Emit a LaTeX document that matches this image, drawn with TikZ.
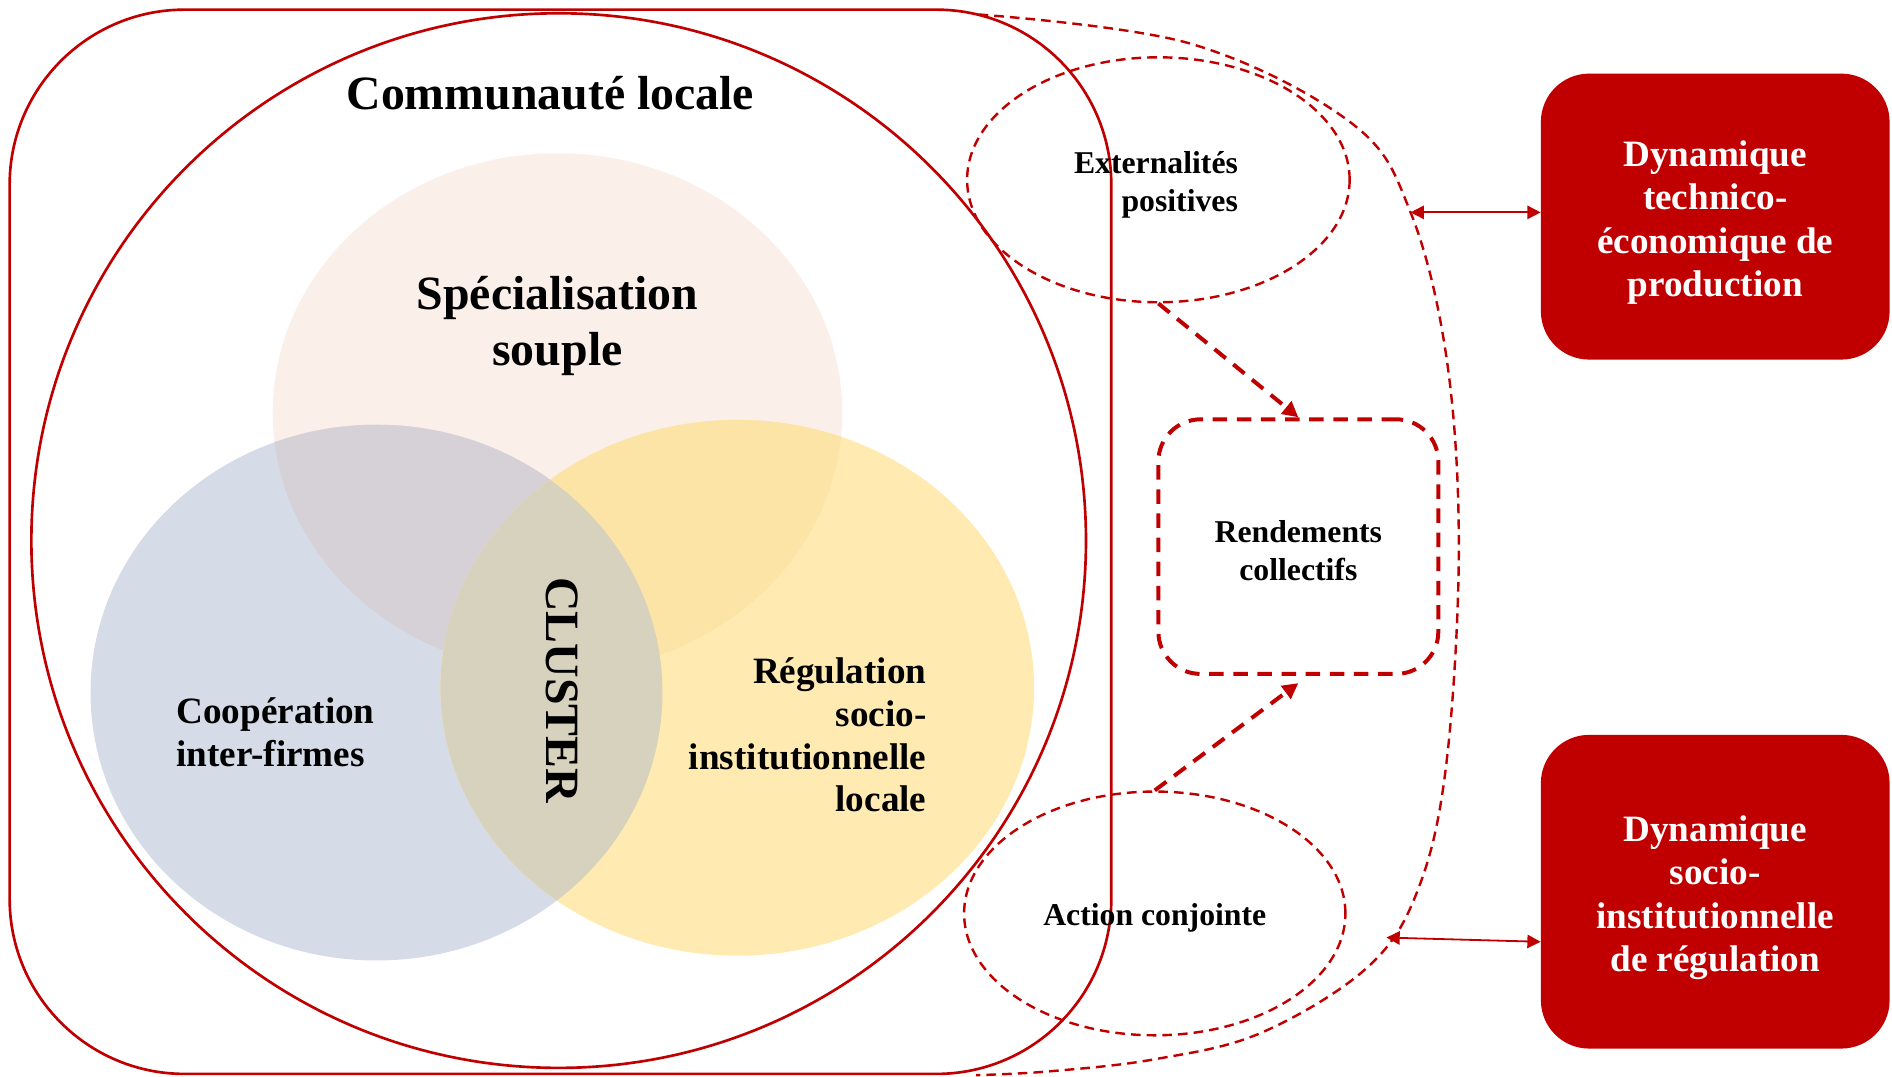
\documentclass[tikz,border=0pt]{standalone}
\usepackage{fontspec}
\setmainfont{Liberation Serif}
\usetikzlibrary{shapes.geometric,arrows.meta,calc}

\definecolor{rougefonce}{RGB}{192,0,0}
\definecolor{rosefill}{RGB}{251,239,233}
\definecolor{bleufill}{RGB}{213,220,231}
\definecolor{jaunefill}{RGB}{255,235,178}
\definecolor{rosejaune}{RGB}{252,227,166}
\definecolor{rosebleu}{RGB}{214,209,214}
\definecolor{lentille}{RGB}{214,210,190}

\newcommand{\fontgrand}{\fontsize{39.6}{46}\selectfont\bfseries}
\newcommand{\fontmoyen}{\fontsize{30.8}{35.5}\selectfont\bfseries}
\newcommand{\fontboite}{\fontsize{30.8}{36}\selectfont\bfseries}
\newcommand{\fontpetit}{\fontsize{26.3}{31.5}\selectfont\bfseries}
% abaisse une ligne sans changer la taille de la boite
\newcommand{\descend}[2][4pt]{\raisebox{-#1}[\height][\depth]{#2}}

\begin{document}
\begin{tikzpicture}[x=1pt,y=-1pt]
\tikzstyle{every node}+=[inner sep=0pt]
\tikzset{
  contour/.style={draw=rougefonce, line width=2.2pt},
  tiretfin/.style={draw=rougefonce, line width=2pt, dash pattern=on 8pt off 5pt},
  tiretgros/.style={draw=rougefonce, line width=3.3pt, dash pattern=on 12pt off 8pt},
  flechetiret/.style={tiretgros, -{Triangle[length=13pt,width=13pt]}},
  doublefleche/.style={draw=rougefonce, line width=1.5pt,
    {Triangle[length=11pt,width=11pt]}-{Triangle[length=11pt,width=11pt]}},
  bulle/.style={ellipse, tiretfin, font=\fontpetit},
  dynbox/.style={rectangle, fill=rougefonce, rounded corners=40pt,
    minimum width=289pt, text=white, align=center, font=\fontboite}
}
\useasboundingbox (0,0) rectangle (1568,892);

% cercles du cluster
\def\specshape{(462,342) ellipse [x radius=236, y radius=215]}
\def\coopshape{(312,574) ellipse [x radius=237, y radius=222]}
\def\regulshape{(611,570) ellipse [x radius=246, y radius=222]}
\fill[rosefill] \specshape;
\fill[bleufill] \coopshape;
\fill[jaunefill] \regulshape;
\begin{scope}
\clip \specshape;
\fill[rosebleu] \coopshape;
\fill[rosejaune] \regulshape;
\end{scope}
\begin{scope}
\clip \coopshape;
\fill[lentille] \regulshape;
\end{scope}

% communaute locale
\draw[contour, rounded corners=145pt] (8,8) rectangle (921,890);
\draw[contour] (463,448) circle [radius=437];

\node[font=\fontgrand] (titre) at (456,77) {Communauté locale};
\node[font=\fontgrand, align=center] (spec) at (462,270) {Spécialisation\\souple};
\node[font=\fontmoyen, align=left, anchor=west] (coop) at (146,607) {Coopération\\inter-firmes};
\node[font=\fontmoyen, align=right, anchor=east] (regul) at (768,609) {Régulation\\socio-\\institutionnelle\\locale};
\node[font=\fontgrand, rotate=-90] (cluster) at (466,572) {CLUSTER};

% enveloppe en tirets
\draw[tiretfin] plot[smooth, tension=0.6] coordinates {(811,12) (986,36) (1120,102)
  (1169,176) (1199,298) (1209,453) (1199,630) (1176,735) (1134,801) (1045,856)
  (956,878) (868,888) (809,891)};
\coordinate (ctop) at (1169,176);
\coordinate (cbot) at (1149,777);

\node[bulle, minimum width=317pt, minimum height=203pt, align=right] (ext) at (960,149)
  {\descend{Externalités\hspace{4pt}}\\\descend{positives\hspace{4pt}}};
\node[bulle, minimum width=316pt, minimum height=202pt] (act) at (957,757) {\descend{Action conjointe}};
\node[rectangle, tiretgros, rounded corners=35pt, minimum width=232pt, minimum height=211pt,
  font=\fontpetit, align=center] (rend) at (1076,453) {\descend[3pt]{Rendements}\\\descend[3pt]{collectifs}};

\draw[flechetiret] (ext.south) -- (rend.north);
\draw[flechetiret] (act.north) -- ([yshift=-6pt]rend.south);

\node[dynbox, minimum height=237pt] (dyntech) at (1421.5,179.5)
  {\descend[5pt]{Dynamique}\\\descend[5pt]{technico-}\\\descend[5pt]{économique de}\\\descend[5pt]{production}};
\node[dynbox, minimum height=260pt] (dynsoc) at (1421.5,739)
  {\descend[5pt]{Dynamique}\\\descend[5pt]{socio-}\\\descend[5pt]{institutionnelle}\\\descend[5pt]{de régulation}};

\draw[doublefleche] (ctop) -- (ctop -| dyntech.west);
\draw[doublefleche] (cbot) -- (dynsoc.196);
\end{tikzpicture}
\end{document}
